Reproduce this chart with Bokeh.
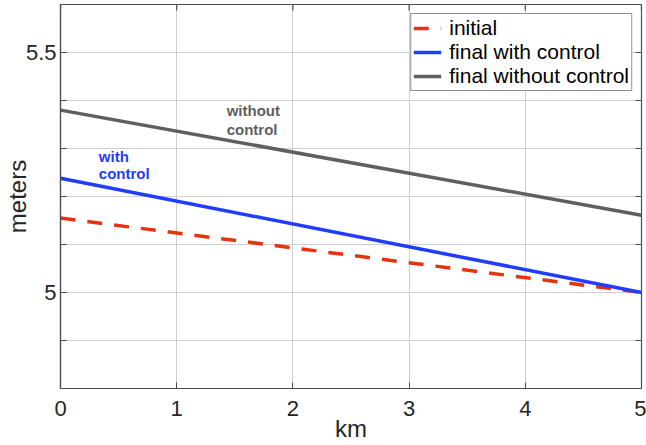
import math
from bokeh.plotting import figure
from bokeh.models import FixedTicker, Legend, LegendItem, CustomJSTickFormatter, Range1d
from bokeh.embed import file_html
from bokeh.resources import INLINE
from bokeh.core.properties import value

# ---- data ----
km = [0, 5]
initial = [5.155, 5.0]
final_with_control = [5.238, 5.0]
final_without_control = [5.380, 5.161]

series_labels = ["initial", "final with control", "final without control"]

x_ticks = [0, 1, 2, 3, 4, 5]
y_ticks = [5.0, 5.5]
y_tick_labels = ["5", "5.5"]
y_grid_ticks = [4.8, 4.9, 5.0, 5.1, 5.2, 5.3, 5.4, 5.5, 5.6]
x_min, x_max = 0, 5
y_min, y_max = 4.8, 5.6

x_label = "km"
y_label = "meters"
annot_without_text = ["without\ncontrol"]
annot_with_text = ["with\ncontrol"]

# ---- layout / style ----
FONT = "Liberation Sans"
TXT = "#262626"
AX = "#4d4d4d"
GRID = "#cfcfcf"
RED = "#e8320f"
BLUE = "#1f3cff"
GRAY = "#5f5f5f"

p = figure(width=646, height=445,
           x_range=Range1d(x_min, x_max), y_range=Range1d(y_min, y_max),
           output_backend="svg", toolbar_location=None,
           min_border_left=60, min_border_right=5,
           min_border_top=4, min_border_bottom=57)

p.background_fill_color = "white"
p.border_fill_color = "white"
p.outline_line_color = AX
p.outline_line_width = 1.2

p.xaxis.ticker = FixedTicker(ticks=x_ticks)
p.yaxis.ticker = FixedTicker(ticks=y_ticks, minor_ticks=y_grid_ticks)
p.yaxis.formatter = CustomJSTickFormatter(
    args=dict(v=y_ticks, l=y_tick_labels),
    code="for (let i = 0; i < v.length; i++) { if (Math.abs(tick - v[i]) < 1e-9) return l[i]; } return '';")
p.xaxis.axis_label = x_label
p.yaxis.axis_label = y_label

for ax in p.xaxis + p.yaxis:
    ax.axis_line_color = AX
    ax.axis_line_width = 1.2
    ax.major_tick_line_color = AX
    ax.minor_tick_line_color = AX
    ax.major_tick_in = 6
    ax.major_tick_out = 0
    ax.minor_tick_in = 6
    ax.minor_tick_out = 0
    ax.major_label_text_font = FONT
    ax.major_label_text_font_size = "22px"
    ax.major_label_text_color = TXT
    ax.axis_label_text_font = FONT
    ax.axis_label_text_font_size = "24px"
    ax.axis_label_text_font_style = "normal"
    ax.axis_label_text_color = TXT

p.xaxis.minor_tick_line_color = None
p.xaxis.major_label_standoff = 12
p.xaxis.axis_label_standoff = -4
p.yaxis.major_label_standoff = 4
p.yaxis.axis_label_standoff = -8

p.xgrid.grid_line_color = GRID
p.ygrid.grid_line_color = GRID
p.ygrid.minor_grid_line_color = GRID
p.xgrid.grid_line_width = 1
p.ygrid.grid_line_width = 1

# box tick marks on the top and right edges (half of each dash is clipped by the frame)
p.scatter(x=x_ticks, y=[y_max] * len(x_ticks), marker="dash", size=12, angle=math.pi / 2,
          line_color=AX, line_width=1.2)
p.scatter(x=[x_max] * len(y_grid_ticks), y=y_grid_ticks, marker="dash", size=12,
          line_color=AX, line_width=1.2)

r_init = p.line(km, initial, line_color=RED, line_width=3.5, line_dash="15 12")
r_with = p.line(km, final_with_control, line_color=BLUE, line_width=3.5)
r_without = p.line(km, final_without_control, line_color=GRAY, line_width=3.5)

p.text(x=[1.43], y=[5.397], text=annot_without_text,
       text_font=value(FONT), text_font_style="bold", text_font_size="15px",
       text_color=GRAY, text_align="left", text_baseline="top", text_line_height=1.15)
p.text(x=[0.33], y=[5.302], text=annot_with_text,
       text_font=value(FONT), text_font_style="bold", text_font_size="15px",
       text_color=BLUE, text_align="left", text_baseline="top", text_line_height=1.05)

legend = Legend(items=[LegendItem(label=series_labels[0], renderers=[r_init]),
                       LegendItem(label=series_labels[1], renderers=[r_with]),
                       LegendItem(label=series_labels[2], renderers=[r_without])],
                location="top_right")
legend.margin = 9
legend.padding = 2
legend.spacing = 0
legend.glyph_width = 28
legend.glyph_height = 20
legend.label_height = 20
legend.label_standoff = 8
legend.label_text_font = FONT
legend.label_text_font_size = "21px"
legend.label_text_color = "black"
legend.border_line_color = "#262626"
legend.border_line_width = 1
legend.background_fill_color = "white"
legend.background_fill_alpha = 1
p.add_layout(legend)

open("out.html", "w").write(file_html(p, INLINE))
